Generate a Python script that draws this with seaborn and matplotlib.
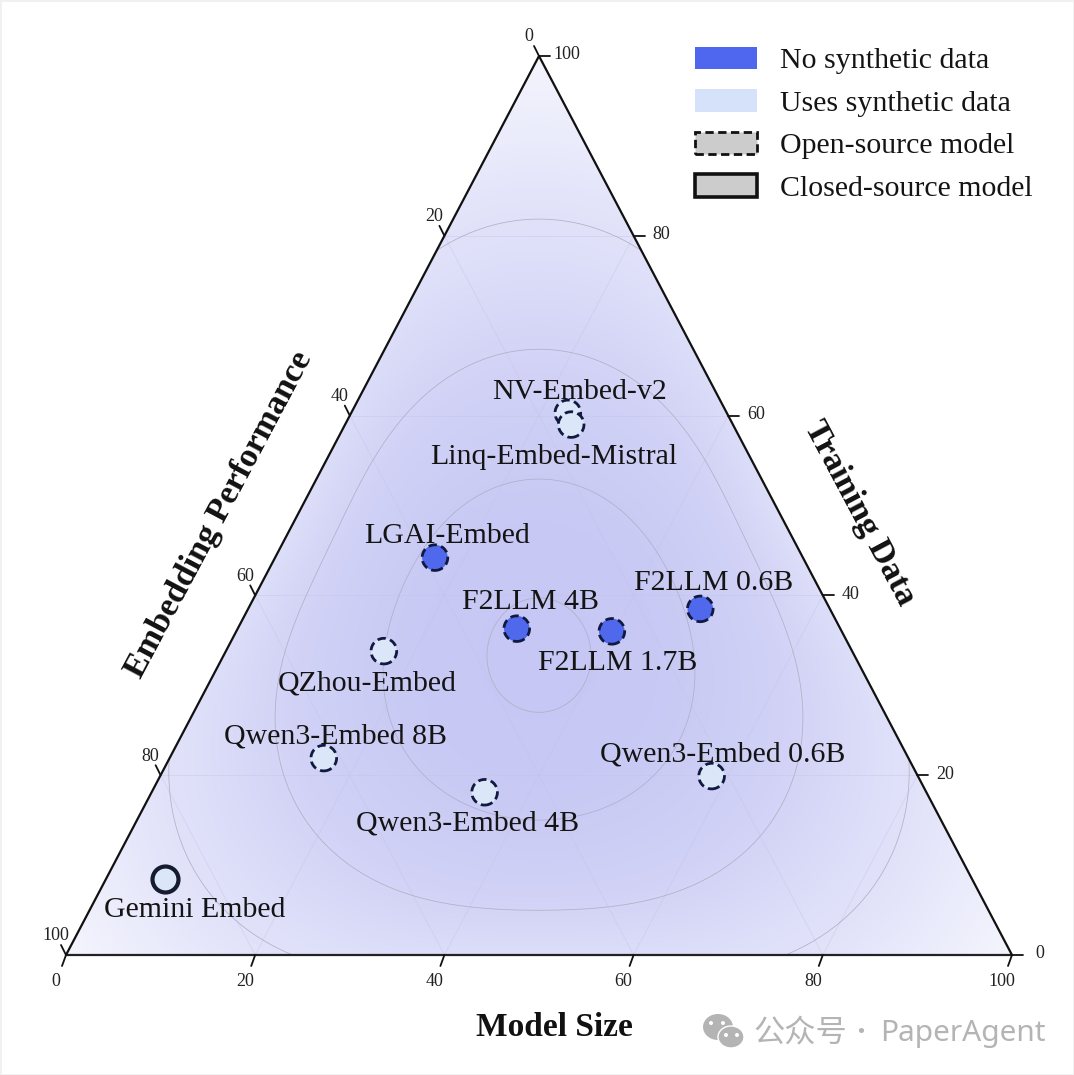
import numpy as np
import pandas as pd
import seaborn as sns
import matplotlib.pyplot as plt
from matplotlib.patches import Patch, Polygon, Ellipse, Rectangle

# ternary values
models = ["Gemini Embed", "Qwen3-Embed 8B", "Qwen3-Embed 4B", "Qwen3-Embed 0.6B", "QZhou-Embed", "LGAI-Embed",
          "F2LLM 4B", "F2LLM 1.7B", "F2LLM 0.6B", "NV-Embed-v2", "Linq-Embed-Mistral"]
model_size = [6.2, 16.3, 35.2, 58.3, 16.7, 16.9, 29.5, 39.7, 47.8, 22.9, 23.9]
training_data = [8.5, 21.9, 18.1, 19.9, 33.8, 44.2, 36.3, 36.0, 38.5, 60.3, 59.0]
synthetic = ["Uses", "Uses", "Uses", "Uses", "Uses", "No", "No", "No", "No", "Uses", "Uses"]
source = ["Closed", "Open", "Open", "Open", "Open", "Open", "Open", "Open", "Open", "Open", "Open"]
ticks = [0, 20, 40, 60, 80, 100]
contour_levels = [52, 155, 255, 341]

# label offsets from the marker, pixels
label_dx = [30, 12, -17, 11, -17, 12, 14, 6, 13, 12, -17]
label_dy = [31, -22, 31, -22, 32, -22, -27, 32, -26, -21, 32]

W, H = 1074, 1075
PX, PY = 9.46, 8.99  # pixels per unit
X0, Y0 = 66, 955

sns.set_theme(style="white")
plt.rcParams['font.family'] = ['Liberation Serif', 'DejaVu Serif']

df = pd.DataFrame({"model": models, "size": model_size, "train": training_data,
                   "synthetic": synthetic, "source": source})
df["x"] = df["size"] + df["train"] / 2
df["y"] = df["train"]

fig = plt.figure(figsize=(W / 100, H / 100), dpi=100)
ax = fig.add_axes([0, 0, 1, 1])
xlim = (-X0 / PX, (W - X0) / PX)
ylim = ((Y0 - H) / PY, Y0 / PY)

tri = Polygon([(0, 0), (100, 0), (50, 100)], closed=True, fc="none", ec="none", transform=ax.transData)
ax.add_patch(tri)

# background field, rounded triangle shape
gx, gy = np.meshgrid(np.linspace(-2, 102, 700), np.linspace(-2, 102, 700))
dx = (gx - 50) * PX
dy = (gy - 100 / 3) * PY
q = np.sqrt(dx ** 2 + (dy / 1.1) ** 2)
cos3 = np.cos(3 * np.arctan2(dx, dy))
rho = q.copy()
for _ in range(8):
    bend = np.minimum(0.163 * (rho / 341) ** 2, 0.3)
    rho = q / (1 + bend * cos3)

cmap = sns.blend_palette(["#c6c7f4", "#c8c9f4", "#d1d2f6", "#e4e5fa", "#ffffff"], as_cmap=True)
img = ax.imshow(rho, extent=(-2, 102, -2, 102), origin="lower", cmap=cmap, vmin=0, vmax=480,
                aspect="auto", interpolation="bilinear")
img.set_clip_path(tri)

cs = ax.contour(gx, gy, rho, levels=contour_levels, colors="#b0b0c6", linewidths=0.55)
cs.set_clip_path(tri)

# grid
for t in ticks[1:-1]:
    for seg in [[(t / 2, t), (100 - t / 2, t)],
                [(t, 0), (t + (100 - t) / 2, 100 - t)],
                [(100 - t, 0), ((100 - t) / 2, 100 - t)]]:
        ax.plot(*zip(*seg), color="#c3c3e6", lw=0.7, alpha=0.4, zorder=1.5)

# frame
ax.plot([0, 100], [0, 0], color="#222222", lw=1.6, zorder=3)
ax.plot([0, 50, 100], [0, 100, 0], color="#111111", lw=1.6, zorder=3)

tick_kw = dict(color="#111111", lw=1.3, zorder=3, clip_on=False)
for i, t in enumerate(ticks):
    # bottom: model size
    ax.plot([t, t - 4 / PX], [0, -11 / PY], **tick_kw)
    ax.annotate(str(t), (t, 0), xytext=(-10 * .72, -26 * .72), textcoords="offset points",
                ha="center", va="center", fontsize=13, color="#222222")
    # right: training data
    rx, ry = 100 - t / 2, t
    ax.plot([rx, rx + 11 / PX], [ry, ry], **tick_kw)
    ax.annotate(str(t), (rx, ry), xytext=(28 * .72, 1 * .72), textcoords="offset points",
                ha="center", va="center", fontsize=13, color="#222222")
    # left: embedding performance
    lx, ly = 50 - t / 2, 100 - t
    ax.plot([lx, lx - 5 / PX], [ly, ly + 10 / PY], **tick_kw)
    ax.annotate(str(t), (lx, ly), xytext=(-10 * .72, 19 * .72), textcoords="offset points",
                ha="center", va="center", fontsize=13, color="#222222")

# points
fill = {"No": "#5068ec", "Uses": "#dce6f9"}
open_df = df[df["source"] == "Open"]
closed_df = df[df["source"] == "Closed"]
sns.scatterplot(data=open_df, x="x", y="y", hue="synthetic", palette=fill, s=340, edgecolor="#101a40",
                linewidth=2.0, linestyle=(0, (3.0, 1.6)), legend=False, ax=ax, zorder=4)
sns.scatterplot(data=closed_df, x="x", y="y", hue="synthetic", palette=fill, s=350, edgecolor="#161c30",
                linewidth=3, legend=False, ax=ax, zorder=4)

for i, row in df.iterrows():
    ax.annotate(row["model"], (row["x"], row["y"]), xytext=(label_dx[i] * .72, -label_dy[i] * .72),
                textcoords="offset points", ha="center", va="center", fontsize=21.5, color="#141414", zorder=5)

# axis titles
def px(x, y):
    return (x - X0) / PX, (Y0 - y) / PY

title_kw = dict(fontweight="bold", ha="center", va="center", color="#111111", rotation_mode="anchor")
ax.text(*px(219, 515), "Embedding Performance", rotation=62, fontsize=24.5, **title_kw)
ax.text(*px(860, 513), "Training Data", rotation=-62, fontsize=24.5, **title_kw)
ax.text(*px(554, 1027), "Model Size", fontsize=24, **title_kw)

# legend
handles = [Patch(fc="#4f66ee", ec="none", label="No synthetic data"),
           Patch(fc="#d6e2fa", ec="none", label="Uses synthetic data"),
           Patch(fc="#cccccc", ec="#111111", lw=2.0, ls=(0, (3, 1.6)), label="Open-source model"),
           Patch(fc="#cccccc", ec="#111111", lw=2.6, label="Closed-source model")]
ax.legend(handles=handles, loc="upper left", bbox_to_anchor=(668 / W, 1 - 20 / H), frameon=False, fontsize=21.5,
          handlelength=2.07, handleheight=0.77, handletextpad=0.77, labelspacing=0.5, borderpad=0.4,
          labelcolor="#141414")

# watermark
wm = "#b4b4b4"
ax.add_patch(Ellipse(px(718, 1027), 30 / PX, 26 / PY, fc=wm, ec="none", zorder=2))
ax.add_patch(Ellipse(px(731, 1037), 26 / PX, 22 / PY, fc=wm, ec="white", lw=1, zorder=2))
for ex, ey in [(711, 1023), (723, 1023), (726, 1035), (737, 1035)]:
    ax.add_patch(Ellipse(px(ex, ey), 4 / PX, 4 / PY, fc="white", ec="none", zorder=2.5))
ax.text(*px(753, 1033), "公众号", ha="left", va="center", fontsize=22.5, color=wm,
        family=["Noto Sans CJK SC", "DejaVu Sans"])
ax.text(*px(861, 1033), "·", ha="center", va="center", fontsize=18, color=wm,
        family=["Noto Sans CJK SC", "DejaVu Sans"])
ax.text(*px(880, 1033), "PaperAgent", ha="left", va="center", fontsize=21.5, color=wm, family=["Noto Sans"])

fig.add_artist(Rectangle((0, 0), 1, 1, transform=fig.transFigure, fc="none", ec="#f0f0f0", lw=2))

ax.set_xlim(xlim)
ax.set_ylim(ylim)
ax.axis("off")
fig.savefig("out.png", dpi=100)
